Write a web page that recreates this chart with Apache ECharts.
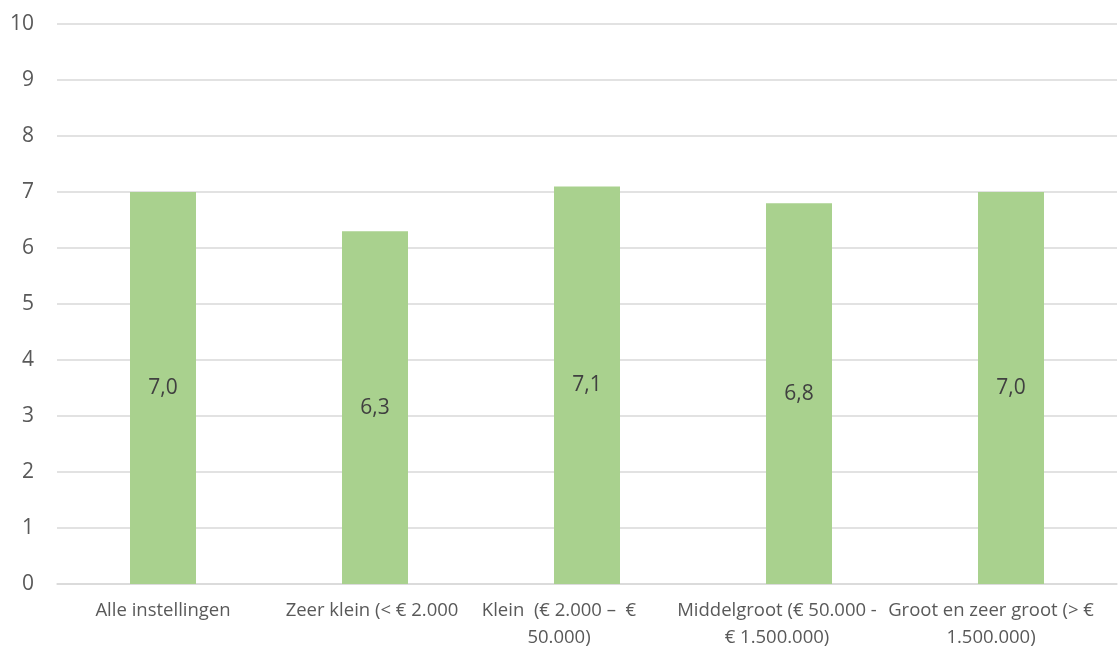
<!DOCTYPE html>
<html><head><meta charset="utf-8">
<script src="https://cdn.jsdelivr.net/npm/echarts@6/dist/echarts.min.js"></script>
<style>html,body{margin:0;padding:0;background:#fff}#c{width:1118px;height:646px}</style>
</head><body><div id="c"></div>
<script>
const categories = [
  'Alle instellingen',
  'Zeer klein (< € 2.000',
  'Klein  (€ 2.000 –  €\n50.000)',
  'Middelgroot (€ 50.000 -\n€ 1.500.000)',
  'Groot en zeer groot (> €\n1.500.000)'
];
const values = [7.0, 6.3, 7.1, 6.8, 7.0];
const yMin = 0, yMax = 10, yStep = 1;
// horizontal shift of each category label (px, negative = left), as in the reference
const labelShift = [0, -3, -28, -22, -20];

const chart = echarts.init(document.getElementById('c'));
chart.setOption({
  animation: false,
  textStyle: { fontFamily: 'Open Sans, sans-serif' },
  grid: { left: 57, right: 1, top: 24, bottom: 62, containLabel: false, outerBoundsMode: 'none' },
  xAxis: {
    type: 'category',
    data: categories.map((c, i) => ({
      value: c,
      textStyle: { padding: [0, Math.max(0, -2 * labelShift[i]), 0, Math.max(0, 2 * labelShift[i])] }
    })),
    axisTick: { show: false },
    axisLine: { lineStyle: { color: '#D9D9D9', width: 1.5 } },
    axisLabel: { color: '#595959', fontSize: 18.5, lineHeight: 27, margin: 13, interval: 0 }
  },
  yAxis: {
    type: 'value', min: yMin, max: yMax, interval: yStep,
    axisLine: { show: false }, axisTick: { show: false },
    axisLabel: { color: '#595959', fontSize: 21, margin: 23 },
    splitLine: { lineStyle: { color: '#D9D9D9', width: 1.5 } }
  },
  series: [{
    type: 'bar', data: values, barWidth: 66,
    itemStyle: { color: '#A9D18E' },
    label: { show: true, position: 'inside', color: '#404040', fontSize: 21,
      formatter: p => p.value.toFixed(1).replace('.', ',') }
  }]
});
</script></body></html>
